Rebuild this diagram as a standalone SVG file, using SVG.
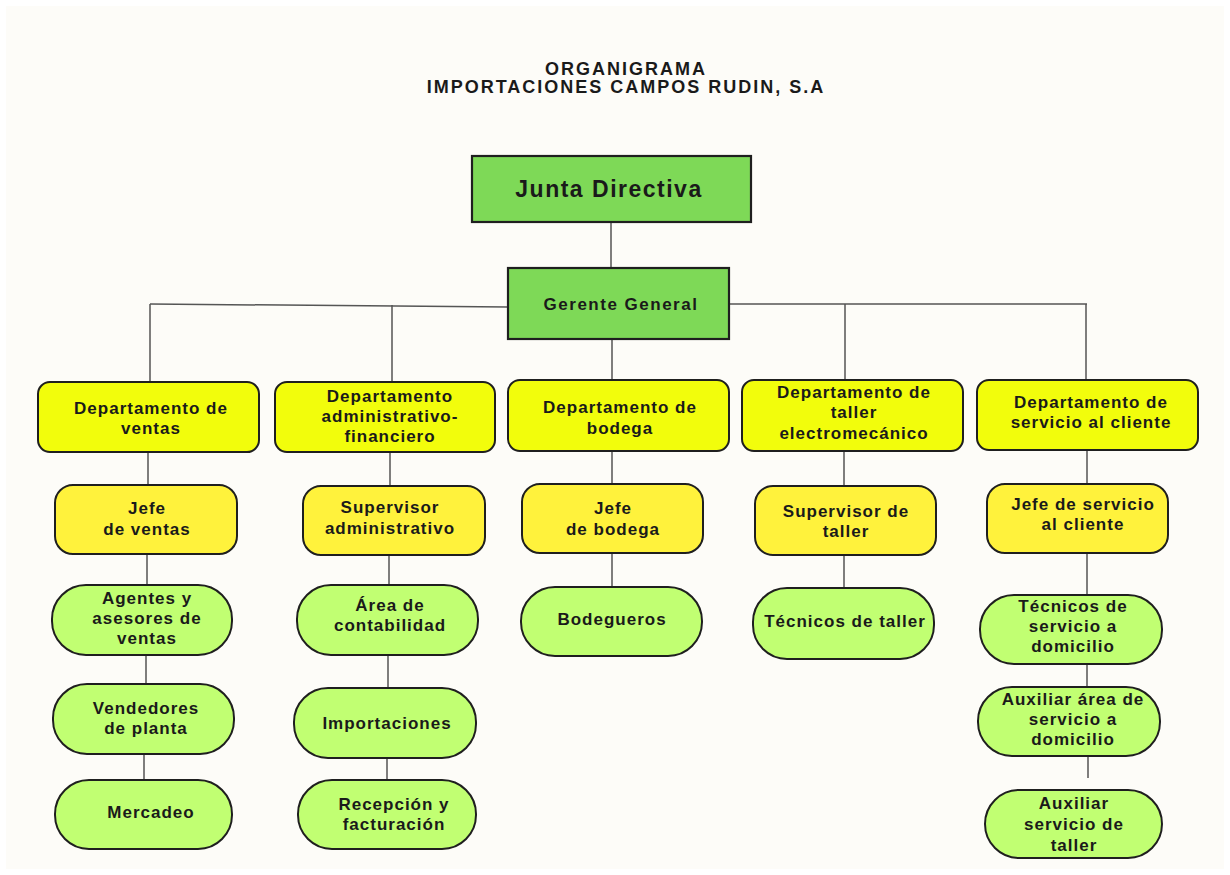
<svg xmlns="http://www.w3.org/2000/svg" width="1230" height="875" viewBox="0 0 1230 875">
  <style>
    text { font-family: "Liberation Sans", Arial, sans-serif; font-weight: bold; fill: #1a1a1a; text-anchor: middle; }
    .title { font-size: 18px; letter-spacing: 2px; }
    .t { font-size: 17px; letter-spacing: 1px; }
    .top { fill: #7ed957; stroke: #1f1f1f; stroke-width: 2.2; }
    .dept { fill: #f2fd0c; stroke: #1f1f1f; stroke-width: 2; }
    .jefe { fill: #fff23c; stroke: #1f1f1f; stroke-width: 2; }
    .pill { fill: #c1ff72; stroke: #1f1f1f; stroke-width: 2; }
    #connectors line { stroke: #555; stroke-width: 1.5; }
  </style>

  <rect width="1230" height="875" fill="#ffffff"/>
  <rect x="6" y="6" width="1218" height="863" fill="#fdfcf8"/>

  <g id="title">
    <text class="title" x="626" y="75">ORGANIGRAMA</text>
    <text class="title" x="626" y="93">IMPORTACIONES CAMPOS RUDIN, S.A</text>
  </g>

  <g id="connectors">
    <line x1="611" y1="222" x2="611" y2="268"/>
    <line x1="150" y1="304" x2="508" y2="307"/>
    <line x1="729" y1="304" x2="1087" y2="304"/>
    <line x1="150" y1="304" x2="150" y2="382"/>
    <line x1="392" y1="305" x2="392" y2="382"/>
    <line x1="612" y1="339" x2="612" y2="380"/>
    <line x1="845" y1="304" x2="845" y2="380"/>
    <line x1="1086" y1="304" x2="1086" y2="380"/>
    <!-- departments to heads -->
    <line x1="148" y1="452" x2="148" y2="485"/>
    <line x1="390" y1="452" x2="390" y2="486"/>
    <line x1="612" y1="451" x2="612" y2="484"/>
    <line x1="844" y1="451" x2="844" y2="486"/>
    <line x1="1087" y1="450" x2="1087" y2="484"/>
    <!-- sales column -->
    <line x1="147" y1="554" x2="147" y2="585"/>
    <line x1="146" y1="655" x2="146" y2="684"/>
    <line x1="144" y1="754" x2="144" y2="780"/>
    <!-- admin column -->
    <line x1="389" y1="555" x2="389" y2="585"/>
    <line x1="388" y1="655" x2="388" y2="688"/>
    <line x1="387" y1="758" x2="387" y2="780"/>
    <!-- warehouse column -->
    <line x1="612" y1="553" x2="612" y2="587"/>
    <!-- workshop column -->
    <line x1="844" y1="555" x2="844" y2="588"/>
    <!-- customer service column -->
    <line x1="1087" y1="553" x2="1087" y2="595"/>
    <line x1="1087" y1="664" x2="1087" y2="687"/>
    <line x1="1088" y1="756" x2="1088" y2="778"/>
  </g>

  <g id="junta">
    <rect class="top" x="472" y="156" width="279" height="66"/>
    <text x="609" y="197" style="font-size:23px;letter-spacing:1.5px">Junta Directiva</text>
  </g>
  <g id="gerente">
    <rect class="top" x="508" y="268" width="221" height="71"/>
    <text x="621" y="310" style="font-size:17px;letter-spacing:1.5px">Gerente General</text>
  </g>

  <!-- departments -->
  <g id="dept-ventas">
    <rect class="dept" x="38" y="382" width="221" height="70" rx="12"/>
    <text class="t" x="151" y="414">Departamento de</text>
    <text class="t" x="151" y="434">ventas</text>
  </g>
  <g id="dept-admin">
    <rect class="dept" x="275" y="382" width="220" height="70" rx="12"/>
    <text class="t" x="390" y="402">Departamento</text>
    <text class="t" x="390" y="422">administrativo-</text>
    <text class="t" x="390" y="442">financiero</text>
  </g>
  <g id="dept-bodega">
    <rect class="dept" x="508" y="380" width="221" height="71" rx="12"/>
    <text class="t" x="620" y="413">Departamento de</text>
    <text class="t" x="620" y="434">bodega</text>
  </g>
  <g id="dept-taller">
    <rect class="dept" x="742" y="380" width="221" height="71" rx="12"/>
    <text class="t" x="854" y="398">Departamento de</text>
    <text class="t" x="854" y="418">taller</text>
    <text class="t" x="854" y="439">electromecánico</text>
  </g>
  <g id="dept-servicio">
    <rect class="dept" x="977" y="380" width="221" height="70" rx="12"/>
    <text class="t" x="1091" y="408">Departamento de</text>
    <text class="t" x="1091" y="428">servicio al cliente</text>
  </g>

  <!-- heads -->
  <g id="jefe-ventas">
    <rect class="jefe" x="55" y="485" width="182" height="69" rx="18"/>
    <text class="t" x="147" y="514">Jefe</text>
    <text class="t" x="147" y="535">de ventas</text>
  </g>
  <g id="supervisor-admin">
    <rect class="jefe" x="303" y="486" width="182" height="69" rx="18"/>
    <text class="t" x="390" y="513">Supervisor</text>
    <text class="t" x="390" y="534">administrativo</text>
  </g>
  <g id="jefe-bodega">
    <rect class="jefe" x="522" y="484" width="181" height="69" rx="18"/>
    <text class="t" x="613" y="514">Jefe</text>
    <text class="t" x="613" y="535">de bodega</text>
  </g>
  <g id="supervisor-taller">
    <rect class="jefe" x="755" y="486" width="181" height="69" rx="18"/>
    <text class="t" x="846" y="517">Supervisor de</text>
    <text class="t" x="846" y="537">taller</text>
  </g>
  <g id="jefe-servicio">
    <rect class="jefe" x="987" y="484" width="181" height="69" rx="18"/>
    <text class="t" x="1083" y="510">Jefe de servicio</text>
    <text class="t" x="1083" y="530">al cliente</text>
  </g>

  <!-- sales staff -->
  <g id="agentes">
    <rect class="pill" x="52" y="585" width="180" height="70" rx="34"/>
    <text class="t" x="147" y="604">Agentes y</text>
    <text class="t" x="147" y="624">asesores de</text>
    <text class="t" x="147" y="644">ventas</text>
  </g>
  <g id="vendedores">
    <rect class="pill" x="53" y="684" width="181" height="70" rx="34"/>
    <text class="t" x="146" y="714">Vendedores</text>
    <text class="t" x="146" y="734">de planta</text>
  </g>
  <g id="mercadeo">
    <rect class="pill" x="55" y="780" width="177" height="69" rx="34"/>
    <text class="t" x="151" y="818">Mercadeo</text>
  </g>

  <!-- administration staff -->
  <g id="contabilidad">
    <rect class="pill" x="297" y="585" width="181" height="70" rx="34"/>
    <text class="t" x="390" y="611">Área de</text>
    <text class="t" x="390" y="631">contabilidad</text>
  </g>
  <g id="importaciones">
    <rect class="pill" x="294" y="688" width="182" height="70" rx="34"/>
    <text class="t" x="387" y="729">Importaciones</text>
  </g>
  <g id="recepcion">
    <rect class="pill" x="298" y="780" width="178" height="69" rx="34"/>
    <text class="t" x="394" y="810">Recepción y</text>
    <text class="t" x="394" y="830">facturación</text>
  </g>

  <!-- warehouse staff -->
  <g id="bodegueros">
    <rect class="pill" x="521" y="587" width="181" height="69" rx="34"/>
    <text class="t" x="612" y="625">Bodegueros</text>
  </g>

  <!-- workshop staff -->
  <g id="tecnicos-taller">
    <rect class="pill" x="753" y="588" width="181" height="71" rx="34"/>
    <text class="t" x="845" y="627">Técnicos de taller</text>
  </g>

  <!-- customer service staff -->
  <g id="tecnicos-domicilio">
    <rect class="pill" x="980" y="595" width="182" height="69" rx="34"/>
    <text class="t" x="1073" y="612">Técnicos de</text>
    <text class="t" x="1073" y="632">servicio a</text>
    <text class="t" x="1073" y="652">domicilio</text>
  </g>
  <g id="auxiliar-domicilio">
    <rect class="pill" x="978" y="687" width="182" height="69" rx="34"/>
    <text class="t" x="1073" y="705">Auxiliar área de</text>
    <text class="t" x="1073" y="725">servicio a</text>
    <text class="t" x="1073" y="745">domicilio</text>
  </g>
  <g id="auxiliar-taller">
    <rect class="pill" x="985" y="790" width="177" height="68" rx="34"/>
    <text class="t" x="1074" y="809">Auxiliar</text>
    <text class="t" x="1074" y="830">servicio de</text>
    <text class="t" x="1074" y="851">taller</text>
  </g>
</svg>
